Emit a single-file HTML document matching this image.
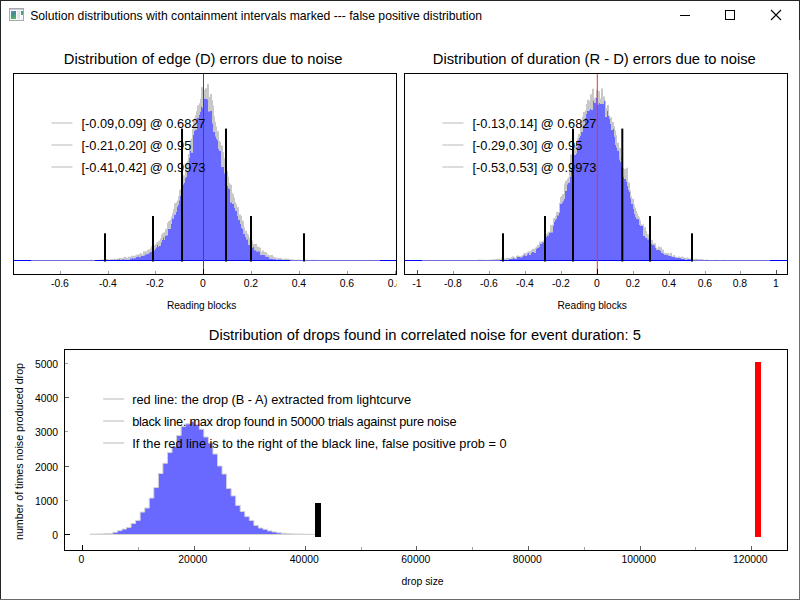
<!DOCTYPE html>
<html><head><meta charset="utf-8"><style>
html,body{margin:0;padding:0;width:800px;height:600px;overflow:hidden;background:#fff}
svg{display:block}
</style></head><body>
<svg width="800" height="600" viewBox="0 0 800 600">
<g font-family='"Liberation Sans", sans-serif' fill="#000">
<rect x="0" y="0" width="800" height="600" fill="#fff"/>
<rect x="0" y="0" width="800" height="1" fill="#1f2427"/>
<rect x="0" y="0" width="1" height="600" fill="#22272a"/>
<rect x="799" y="0" width="1" height="40" fill="#25292b"/>
<rect x="799" y="40" width="1" height="560" fill="#6c6c6c"/>
<rect x="0" y="599" width="800" height="1" fill="#6a6a6a"/>
<defs><linearGradient id="ig" x1="0" y1="0" x2="0.4" y2="1"><stop offset="0" stop-color="#6b8bc6"/><stop offset="0.5" stop-color="#3f8f90"/><stop offset="1" stop-color="#52b462"/></linearGradient></defs>
<rect x="9.5" y="8.5" width="14" height="12" fill="#f7f7f9" stroke="#a6a9ad" stroke-width="1"/>
<rect x="10" y="9" width="13" height="1" fill="#c9ccd0"/>
<rect x="11" y="11" width="5" height="8" fill="url(#ig)"/>
<rect x="17.5" y="11" width="2.5" height="8" fill="#e2e2e2"/>
<rect x="21" y="11" width="2" height="4" fill="url(#ig)"/>
<text x="30.2" y="20" font-size="12.2">Solution distributions with containment intervals marked --- false positive distribution</text>
<rect x="680" y="15" width="10" height="1" fill="#000"/>
<rect x="725.5" y="10.5" width="9" height="9" fill="none" stroke="#000" stroke-width="1"/>
<path d="M771,10 L781,20 M781,10 L771,20" stroke="#000" stroke-width="1.1" fill="none"/>
<text x="63.8" y="64" font-size="14.76">Distribution of edge (D) errors due to noise</text>
<clipPath id="c1"><rect x="14" y="74" width="382" height="200"/></clipPath>
<g clip-path="url(#c1)">
<path d="M31,260.5H31V260.5H90V260.31H91V260.34H92V260.46H93V260.44H94V260.45H96V260.5H101V260.38H102V260.5H104V260.4H105V259.99H106V260.01H107V260.46H109V260.21H110V260.5H111V260.39H112V259.98H114V259.46H115V260.12H117V259.37H118V259.93H119V259.12H120V260.29H122V259.28H124V259.34H125V259.66H126V259.37H127V259.94H129V259.59H130V258.21H131V258.87H132V257.69H133V258.13H135V257.71H136V256.83H137V256.45H138V256.13H139V257.36H140V256.9H141V255.73H142V256.11H144V255.32H145V254.28H147V253.71H148V253.45H149V252.73H150V251.69H151V252.12H152V250.99H153V250.37H155V249H156V247.37H157V245.12H158V246.98H159V245.42H161V242.25H162V239.84H163V237.17H164V239.64H165V236.02H166V235.32H168V228.74H170V228.89H171V223.78H172V218.37H173V219H174V214.61H176V211.65H177V206.91H178V204.4H179V200.28H180V195.54H181V195.32H182V191.11H183V184.32H184V182.57H185V177.84H186V176.95H187V171.03H188V171.56H189V157.67H190V151.02H191V152.48H193V134.78H194V130.82H195V129.43H197V117.93H198V117.58H199V115.01H200V111.53H201V106.35H202V107.94H203V103.27H204V98.43H206V99.02H207V99.17H208V111.28H210V110.98H212V123.28H213V131.79H215V136.31H216V138.51H217V140.14H218V148.8H219V150.77H221V166.86H223V166.97H224V173.22H225V175.08H226V182.63H227V186.01H228V188.28H229V188.93H230V202.26H232V204.03H234V207.6H235V210.59H236V210.96H237V215.85H238V219.52H240V224H241V227.39H242V228.79H243V233.97H245V236.74H246V239.29H248V244.49H250V242.67H251V245.71H252V247.43H253V246.67H254V249.85H255V250.33H256V251.25H258V251.31H259V251.26H260V254.64H262V254.54H263V255.03H264V254.73H265V256.13H266V256.91H267V256.62H268V257.01H269V258.95H270V258.48H272V259.05H273V259.19H274V258.92H275V259.31H276V259.95H278V259.17H279V259.18H280V259.36H281V260.5H282V259.92H283V259.81H284V259.96H285V260.29H286V260.41H288V260.5H290V260.36H291V260.5H294V260.32H295V260.5H297V260.21H298V260.5H304V260.48H305V260.49H307V260.5H314V260.44H315V260.45H316V260.5H318V260.48H319V260.37H320V260.44H321V260.5H323V260.41H324V260.49H326V260.5H342V260.49H344V260.5H380V260.5Z" fill="#0000ff" fill-opacity="0.588"/>
<path d="M31,260.48H31V260.48H33V260.5H34V260.49H36V260.48H40V260.47H41V260.45H43V260.46H44V260.47H45V260.44H48V260.42H50V260.46H51V260.41H52V260.39H54V260.44H56V260.43H57V260.41H59V260.5H60V260.46H61V260.41H65V260.39H67V260.4H68V260.35H70V260.38H73V260.35H74V260.15H76V260.17H77V260.3H79V260.22H80V260.12H82V260.14H83V260.02H85V260.05H86V260.04H88V260.06H90V259.83H92V259.96H94V259.98H95V259.92H97V259.9H99V259.77H100V259.57H101V259.56H103V259.55H105V259.67H106V259.08H108V259.24H109V259.66H110V259.26H111V258.88H113V258.91H114V258.87H116V258.95H117V258.4H119V258.22H120V257.89H122V258.13H123V257.44H124V256.77H126V257.69H128V256.67H130V256.38H131V255.69H133V255.75H134V256H135V255.31H136V254.7H137V254.49H139V253.87H140V253.24H142V254.47H143V251.36H145V251.2H147V250.09H148V249.6H150V248.27H151V246.37H153V246.15H154V245.25H155V244.49H156V242.73H157V241.9H158V240.79H160V238.5H161V234.83H162V233.26H163V232.85H164V231.99H165V228.9H166V228.74H167V222.86H168V221.17H169V220.65H170V219.83H171V216.5H172V213.31H173V209.06H174V203.17H176V202.26H177V200.22H178V196.24H179V190.18H180V189.22H181V184.41H182V175.19H184V175.5H185V167.38H186V163.57H187V160.75H188V154.05H189V143.99H190V139.74H191V138.79H192V129.1H193V120.32H194V118.01H195V115.24H196V110.98H197V105.37H199V103.23H200V98.81H201V87.17H203V89.46H204V89.75H205V88.35H207V83.93H209V97.08H210V94.1H212V100.35H213V105.39H214V116.17H215V122H216V126.6H217V131.08H218V131.22H219V140.75H220V141.93H221V145.39H223V152.37H224V158.04H226V171.35H228V176.66H229V182.96H230V184.57H231V184.75H232V192.98H233V194.53H234V197.5H235V202.28H236V204.16H237V207.07H239V214.49H241V215.97H242V220.21H243V221.14H244V227.54H245V230.64H247V233.61H248V234.8H249V237.72H251V239.63H252V240.59H253V244.08H254V244.09H255V243.9H257V246.38H259V247.41H261V251.7H262V250.47H264V251.91H266V252.21H267V254.48H269V255.24H271V255.07H273V256.47H274V257.31H276V258.29H277V257.72H279V258.49H280V258.08H282V258.93H284V258.53H285V258.51H287V258.75H289V259.37H291V259.26H293V259.71H294V259.65H296V259.78H298V259.85H299V259.86H301V259.95H302V260H303V260.01H304V259.95H306V259.84H308V259.9H310V259.99H311V259.75H313V259.98H314V259.87H316V260.11H318V259.95H320V260.13H321V260.11H323V260.08H325V260.18H326V260.12H328V260.31H329V260.05H330V259.98H332V260.26H334V260.31H335V260.36H336V260.15H338V260.17H339V260.23H340V260.24H341V260.26H343V260.31H345V260.35H347V260.34H349V260.28H351V260.33H352V260.32H354V260.33H355V260.44H356V260.36H357V260.33H359V260.4H360V260.29H362V260.4H364V260.42H366V260.38H368V260.45H369V260.42H371V260.43H372V260.44H373V260.46H375V260.47H376V260.4H378V260.36H380H380V260.5H344V260.49H342V260.5H326V260.49H324V260.41H323V260.5H321V260.44H320V260.37H319V260.48H318V260.5H316V260.45H315V260.44H314V260.5H307V260.49H305V260.48H304V260.5H298V260.21H297V260.5H295V260.32H294V260.5H291V260.36H290V260.5H288V260.41H286V260.29H285V259.96H284V259.81H283V259.92H282V260.5H281V259.36H280V259.18H279V259.17H278V259.95H276V259.31H275V258.92H274V259.19H273V259.05H272V258.48H270V258.95H269V257.01H268V256.62H267V256.91H266V256.13H265V254.73H264V255.03H263V254.54H262V254.64H260V251.26H259V251.31H258V251.25H256V250.33H255V249.85H254V246.67H253V247.43H252V245.71H251V242.67H250V244.49H248V239.29H246V236.74H245V233.97H243V228.79H242V227.39H241V224H240V219.52H238V215.85H237V210.96H236V210.59H235V207.6H234V204.03H232V202.26H230V188.93H229V188.28H228V186.01H227V182.63H226V175.08H225V173.22H224V166.97H223V166.86H221V150.77H219V148.8H218V140.14H217V138.51H216V136.31H215V131.79H213V123.28H212V110.98H210V111.28H208V99.17H207V99.02H206V98.43H204V103.27H203V107.94H202V106.35H201V111.53H200V115.01H199V117.58H198V117.93H197V129.43H195V130.82H194V134.78H193V152.48H191V151.02H190V157.67H189V171.56H188V171.03H187V176.95H186V177.84H185V182.57H184V184.32H183V191.11H182V195.32H181V195.54H180V200.28H179V204.4H178V206.91H177V211.65H176V214.61H174V219H173V218.37H172V223.78H171V228.89H170V228.74H168V235.32H166V236.02H165V239.64H164V237.17H163V239.84H162V242.25H161V245.42H159V246.98H158V245.12H157V247.37H156V249H155V250.37H153V250.99H152V252.12H151V251.69H150V252.73H149V253.45H148V253.71H147V254.28H145V255.32H144V256.11H142V255.73H141V256.9H140V257.36H139V256.13H138V256.45H137V256.83H136V257.71H135V258.13H133V257.69H132V258.87H131V258.21H130V259.59H129V259.94H127V259.37H126V259.66H125V259.34H124V259.28H122V260.29H120V259.12H119V259.93H118V259.37H117V260.12H115V259.46H114V259.98H112V260.39H111V260.5H110V260.21H109V260.46H107V260.01H106V259.99H105V260.4H104V260.5H102V260.38H101V260.5H96V260.45H94V260.44H93V260.46H92V260.34H91V260.31H90V260.5H31Z" fill="#c8c8c8"/>
<rect x="13" y="260" width="383" height="1" fill="#0000ff"/>
<rect x="31" y="260" width="64" height="1" fill="#c8c8c8" fill-opacity="0.55"/>
<rect x="290" y="260" width="90" height="1" fill="#c8c8c8" fill-opacity="0.55"/>
<rect x="203" y="73" width="1" height="201" fill="#ff0000"/>
<rect x="104" y="233.3" width="2" height="28.2" fill="#000"/>
<rect x="152" y="216" width="2" height="45.5" fill="#000"/>
<rect x="181" y="128.6" width="2" height="132.9" fill="#000"/>
<rect x="225" y="128.6" width="2" height="132.9" fill="#000"/>
<rect x="250" y="216" width="2" height="45.5" fill="#000"/>
<rect x="303" y="233.3" width="2" height="28.2" fill="#000"/>
<rect x="51.4" y="122" width="21" height="2" fill="#dcdcdc"/>
<text x="81.5" y="128" font-size="12.8">[-0.09,0.09] @ 0.6827</text>
<rect x="51.4" y="144" width="21" height="2" fill="#dcdcdc"/>
<text x="81.5" y="150" font-size="12.8">[-0.21,0.20] @ 0.95</text>
<rect x="51.4" y="166" width="21" height="2" fill="#dcdcdc"/>
<text x="81.5" y="172" font-size="12.8">[-0.41,0.42] @ 0.9973</text>
</g>
<rect x="60" y="271" width="1" height="3" fill="#9a9a9a"/>
<rect x="108" y="271" width="1" height="3" fill="#9a9a9a"/>
<rect x="155" y="271" width="1" height="3" fill="#9a9a9a"/>
<rect x="203" y="269" width="1" height="5" fill="#000"/>
<rect x="251" y="271" width="1" height="3" fill="#9a9a9a"/>
<rect x="299" y="271" width="1" height="3" fill="#9a9a9a"/>
<rect x="347" y="271" width="1" height="3" fill="#9a9a9a"/>
<rect x="395" y="271" width="1" height="3" fill="#9a9a9a"/>
<rect x="13.5" y="73.5" width="383" height="201" fill="none" stroke="#000" stroke-width="1"/>
<clipPath id="c1t"><rect x="-7" y="274" width="404" height="20"/></clipPath>
<g clip-path="url(#c1t)" font-size="10.4" text-anchor="middle">
<text x="59.9" y="287">-0.6</text>
<text x="107.9" y="287">-0.4</text>
<text x="154.9" y="287">-0.2</text>
<text x="202.9" y="287">0</text>
<text x="250.9" y="287">0.2</text>
<text x="298.9" y="287">0.4</text>
<text x="346.9" y="287">0.6</text>
<text x="394.9" y="287">0.8</text>
</g>
<text x="166.9" y="308.6" font-size="10.17">Reading blocks</text>
<text x="432.8" y="64" font-size="14.76">Distribution of duration (R - D) errors due to noise</text>
<clipPath id="c2"><rect x="405" y="74" width="382" height="200"/></clipPath>
<g clip-path="url(#c2)">
<path d="M422,260.5H422V260.5H426V260.48H427V260.49H428V260.5H432V260.48H433V260.5H438V260.47H439V260.5H441V260.47H442V260.5H448V260.45H449V260.5H451V260.47H453V260.4H454V260.5H456V260.46H457V260.3H458V260.38H460V260.49H462V260.35H463V260.5H465V260.34H466V260.5H468V260.32H469V260.46H471V260.5H473V260.47H476V260.5H478V260.42H480V260.14H481V260.17H482V260.3H484V260.24H485V260.5H487V260.24H488V260.16H489V260.07H490V260.02H491V259.99H492V260.27H494V259.86H495V260.13H497V259.82H498V260.5H500V260.07H501V260.02H502V259.18H503V260.13H505V259.99H507V259.43H509V258.93H511V258.86H512V258.45H513V257.7H514V258.17H515V258.5H517V256.46H518V256.99H520V257.34H522V257.01H523V255.6H524V254.59H525V256.08H527V254.28H528V252.65H529V254.78H531V252.55H532V251.67H533V252.07H534V252.44H536V249.03H537V247.43H539V246.98H540V243.79H542V242.23H543V242.33H545V236.99H547V235.46H548V235.36H549V233.03H550V232.23H551V232.24H553V225.87H554V221.83H555V219.52H556V218.95H557V215.33H559V212.49H560V203.96H562V202.21H563V200.39H564V198.81H565V190.9H567V184.25H568V182.4H570V176.42H571V168.95H573V161.81H574V155.07H576V153.3H577V146.45H578V140.1H579V137.98H580V135.46H581V131.68H583V125.39H585V117.83H586V113.64H587V111.06H588V110.65H589V110.33H590V109.01H591V109.47H593V100.48H594V102.83H596V97.84H597V104.26H599V102.67H600V104.07H602V103.99H604V100.95H605V116.83H607V110.57H608V115.66H609V118.44H610V123.85H611V129.72H613V128.61H614V136.4H615V145.03H616V147.37H617V150.53H619V159.24H620V161.81H621V166.38H622V168.07H623V176.88H624V178.84H626V181.32H627V186.07H628V190.1H629V191.68H630V198.23H631V204.12H633V209.05H634V213.84H635V216.9H636V219H638V219.14H639V225.05H640V225.62H641V225.99H643V235.47H645V237.54H647V239.27H649V241.05H650V244.04H652V244.8H653V244.93H654V245.17H655V247.9H656V249.97H658V249.7H659V249.95H660V250.55H661V253.07H663V253.52H664V254.44H666V254.41H668V255.5H669V255.84H671V256.29H672V256.82H674V256.94H675V257.98H677V257.97H678V257.96H679V257.87H681V258.75H683V258.41H685V259.39H687V259.21H688V258.64H689V259.18H690V259.2H691V259.86H693V259.71H694V259.89H696V259.59H698V260.32H700V259.89H702V260.23H704V260.5H706V260.34H708V260.3H709V260.31H711V260.5H713V260.41H715V260.49H717V260.41H719V260.5H723V260.45H724V260.44H725V260.5H727V260.41H728V260.43H730V260.5H733V260.41H734V260.5H744V260.4H745V260.5H749V260.49H750V260.48H751V260.5H754V260.49H755V260.5H764V260.45H765V260.5H770V260.5Z" fill="#0000ff" fill-opacity="0.588"/>
<path d="M422,260.45H422V260.45H423V260.42H425V260.39H427V260.31H429V260.47H430V260.46H431V260.45H432V260.39H434V260.42H436V260.47H437V260.2H439V260.39H440V260.4H443V260.28H445V260.35H446V260.34H447V260.31H449V260.35H450V260.25H452V260.37H454V260.4H455V260.34H456V260.22H458V260.27H459V260.15H461V260.11H463V260.01H465V260.1H466V260.24H467V260.16H469V260.09H471V260.11H472V260.25H473V259.98H475V260.13H476V260.07H477V259.73H479V259.6H481V259.77H482V259.66H484V259.7H486V259.97H487V259.8H488V259.7H490V259.73H491V259.56H493V259.17H495V259.55H496V258.67H498V258.81H500V259.23H501V257.58H503V258.86H504V258.57H506V257.71H508V257.87H510V258.61H511V257.07H512V256.3H514V257.43H516V255.74H517V255.55H519V256.17H521V255.48H522V255.16H523V253.54H524V253.11H526V252.92H527V251.8H528V251.62H529V251.11H531V249.79H532V248.77H534V248.83H535V247.41H536V246.67H537V245H539V241.71H541V241.47H542V241.22H543V240.51H544V235.33H546V234.03H547V232.68H548V231.7H550V225.34H552V224.81H553V217.94H555V216.34H556V212.08H558V211.96H559V202.84H560V196.94H561V195.95H562V194.12H564V183.61H565V180.82H567V178.49H568V177.37H569V167.63H570V154.52H572V161.5H573V147.31H574V145.78H575V145.56H576V143.2H577V137.67H578V133.63H580V121.76H582V116.46H583V111.86H585V110.46H586V104.06H587V99.63H589V100.67H590V94.35H592V88.65H594V98.5H595V97.29H596V89.84H598V90.98H600V98.39H601V88.4H603V96.53H605V100.4H606V107.68H607V104.95H609V115.6H610V117.18H612V121.97H614V126.11H615V130.6H616V135.2H617V142.72H619V147.98H621V156.34H622V161.86H623V168.02H624V168.7H625V169.29H626V167.85H628V182.5H630V190.17H631V196.37H632V198.83H634V204.5H635V207.7H636V210.87H637V213.51H638V216.05H639V217.54H640V220.46H641V224.2H642V224.6H644V227.15H646V231.06H647V233.93H648V234.32H649V238.06H650V239.46H651V240.03H653V243.15H655V243.36H656V247.46H657V248.53H658V246.52H660V247.17H662V249.67H664V252.68H666V253.36H667V252.95H669V254.31H670V252.81H672V256.22H673V255H675V256.38H676V256.6H677V256.91H678V256.59H680V257.4H681V256.45H683V257.35H684V257.43H685V258.37H686V257.47H688V258.38H690V258.46H691V258.65H692V259.35H693V259.07H695V258.84H697V259.29H698V259.15H700V258.96H702V259.19H703V259.55H704V259.69H705V259.99H706V259.5H708V260.11H709V260.09H710V260.04H714V260.14H715V259.69H717V259.93H719V259.99H720V260.17H722V260.32H724V259.86H726V260.29H727V260.19H729V260.18H731V260.26H732V260.28H733V260.27H735V260.34H737V260.4H738V260.38H740V260.49H741V260.3H743V260.26H745V260.32H746V260.42H747V260.44H748V260.42H749V260.32H751V260.42H752V260.41H753V260.35H755V260.3H757V260.39H758V260.45H759V260.33H761V260.41H763V260.42H764V260.4H766V260.43H767V260.39H769V260.41H770H770V260.5H765V260.45H764V260.5H755V260.49H754V260.5H751V260.48H750V260.49H749V260.5H745V260.4H744V260.5H734V260.41H733V260.5H730V260.43H728V260.41H727V260.5H725V260.44H724V260.45H723V260.5H719V260.41H717V260.49H715V260.41H713V260.5H711V260.31H709V260.3H708V260.34H706V260.5H704V260.23H702V259.89H700V260.32H698V259.59H696V259.89H694V259.71H693V259.86H691V259.2H690V259.18H689V258.64H688V259.21H687V259.39H685V258.41H683V258.75H681V257.87H679V257.96H678V257.97H677V257.98H675V256.94H674V256.82H672V256.29H671V255.84H669V255.5H668V254.41H666V254.44H664V253.52H663V253.07H661V250.55H660V249.95H659V249.7H658V249.97H656V247.9H655V245.17H654V244.93H653V244.8H652V244.04H650V241.05H649V239.27H647V237.54H645V235.47H643V225.99H641V225.62H640V225.05H639V219.14H638V219H636V216.9H635V213.84H634V209.05H633V204.12H631V198.23H630V191.68H629V190.1H628V186.07H627V181.32H626V178.84H624V176.88H623V168.07H622V166.38H621V161.81H620V159.24H619V150.53H617V147.37H616V145.03H615V136.4H614V128.61H613V129.72H611V123.85H610V118.44H609V115.66H608V110.57H607V116.83H605V100.95H604V103.99H602V104.07H600V102.67H599V104.26H597V97.84H596V102.83H594V100.48H593V109.47H591V109.01H590V110.33H589V110.65H588V111.06H587V113.64H586V117.83H585V125.39H583V131.68H581V135.46H580V137.98H579V140.1H578V146.45H577V153.3H576V155.07H574V161.81H573V168.95H571V176.42H570V182.4H568V184.25H567V190.9H565V198.81H564V200.39H563V202.21H562V203.96H560V212.49H559V215.33H557V218.95H556V219.52H555V221.83H554V225.87H553V232.24H551V232.23H550V233.03H549V235.36H548V235.46H547V236.99H545V242.33H543V242.23H542V243.79H540V246.98H539V247.43H537V249.03H536V252.44H534V252.07H533V251.67H532V252.55H531V254.78H529V252.65H528V254.28H527V256.08H525V254.59H524V255.6H523V257.01H522V257.34H520V256.99H518V256.46H517V258.5H515V258.17H514V257.7H513V258.45H512V258.86H511V258.93H509V259.43H507V259.99H505V260.13H503V259.18H502V260.02H501V260.07H500V260.5H498V259.82H497V260.13H495V259.86H494V260.27H492V259.99H491V260.02H490V260.07H489V260.16H488V260.24H487V260.5H485V260.24H484V260.3H482V260.17H481V260.14H480V260.42H478V260.5H476V260.47H473V260.5H471V260.46H469V260.32H468V260.5H466V260.34H465V260.5H463V260.35H462V260.49H460V260.38H458V260.3H457V260.46H456V260.5H454V260.4H453V260.47H451V260.5H449V260.45H448V260.5H442V260.47H441V260.5H439V260.47H438V260.5H433V260.48H432V260.5H428V260.49H427V260.48H426V260.5H422Z" fill="#c8c8c8"/>
<rect x="404" y="260" width="383" height="1" fill="#0000ff"/>
<rect x="422" y="260" width="78" height="1" fill="#c8c8c8" fill-opacity="0.55"/>
<rect x="693" y="260" width="77" height="1" fill="#c8c8c8" fill-opacity="0.55"/>
<rect x="596.8" y="73" width="1" height="201" fill="#ff2a2a"/>
<rect x="502" y="233.3" width="2" height="28.2" fill="#000"/>
<rect x="544" y="216" width="2" height="45.5" fill="#000"/>
<rect x="572" y="128.6" width="2" height="132.9" fill="#000"/>
<rect x="621.3" y="128.6" width="2" height="132.9" fill="#000"/>
<rect x="649" y="216" width="2" height="45.5" fill="#000"/>
<rect x="691" y="233.3" width="2" height="28.2" fill="#000"/>
<rect x="442.4" y="122" width="21" height="2" fill="#dcdcdc"/>
<text x="472.5" y="128" font-size="12.8">[-0.13,0.14] @ 0.6827</text>
<rect x="442.4" y="144" width="21" height="2" fill="#dcdcdc"/>
<text x="472.5" y="150" font-size="12.8">[-0.29,0.30] @ 0.95</text>
<rect x="442.4" y="166" width="21" height="2" fill="#dcdcdc"/>
<text x="472.5" y="172" font-size="12.8">[-0.53,0.53] @ 0.9973</text>
</g>
<rect x="417" y="270" width="1" height="4" fill="#505050"/>
<rect x="453" y="271" width="1" height="3" fill="#9a9a9a"/>
<rect x="489" y="271" width="1" height="3" fill="#9a9a9a"/>
<rect x="525" y="271" width="1" height="3" fill="#9a9a9a"/>
<rect x="561" y="271" width="1" height="3" fill="#9a9a9a"/>
<rect x="597" y="269" width="1" height="5" fill="#000"/>
<rect x="633" y="271" width="1" height="3" fill="#9a9a9a"/>
<rect x="669" y="271" width="1" height="3" fill="#9a9a9a"/>
<rect x="705" y="271" width="1" height="3" fill="#9a9a9a"/>
<rect x="740" y="271" width="1" height="3" fill="#9a9a9a"/>
<rect x="776" y="270" width="1" height="4" fill="#505050"/>
<rect x="404.5" y="73.5" width="383" height="201" fill="none" stroke="#000" stroke-width="1"/>
<clipPath id="c2t"><rect x="384" y="274" width="404" height="20"/></clipPath>
<g clip-path="url(#c2t)" font-size="10.4" text-anchor="middle">
<text x="416.9" y="287">-1</text>
<text x="452.9" y="287">-0.8</text>
<text x="488.9" y="287">-0.6</text>
<text x="524.9" y="287">-0.4</text>
<text x="560.9" y="287">-0.2</text>
<text x="596.9" y="287">0</text>
<text x="632.9" y="287">0.2</text>
<text x="668.9" y="287">0.4</text>
<text x="704.9" y="287">0.6</text>
<text x="739.9" y="287">0.8</text>
<text x="775.9" y="287">1</text>
</g>
<text x="557.5" y="308.6" font-size="10.17">Reading blocks</text>
<text x="208.8" y="340" font-size="14.76">Distribution of drops found in correlated noise for event duration: 5</text>
<path d="M90.1,534.5L90.1,534.1L94.65,534.1L94.65,534L99.2,534L99.2,533.9L103.75,533.9L103.75,533.8L108.3,533.8L108.3,533.6L112.85,533.6L112.85,532.3L117.4,532.3L117.4,530.7L121.95,530.7L121.95,529.1L126.5,529.1L126.5,527.4L131.05,527.4L131.05,523.5L135.6,523.5L135.6,520.4L140.15,520.4L140.15,512.1L144.7,512.1L144.7,508L149.25,508L149.25,498.1L153.8,498.1L153.8,487.5L158.35,487.5L158.35,473.5L162.9,473.5L162.9,463.25L167.45,463.25L167.45,452.6L172,452.6L172,446.4L176.55,446.4L176.55,435.5L181.1,435.5L181.1,426.5L185.65,426.5L185.65,423.8L190.2,423.8L190.2,421.5L194.75,421.5L194.75,424.5L199.3,424.5L199.3,429.2L203.85,429.2L203.85,437L208.4,437L208.4,443L212.95,443L212.95,454L217.5,454L217.5,466L222.05,466L222.05,474L226.6,474L226.6,488.5L231.15,488.5L231.15,495.9L235.7,495.9L235.7,505.4L240.25,505.4L240.25,511.5L244.8,511.5L244.8,516.6L249.35,516.6L249.35,520.5L253.9,520.5L253.9,525.4L258.45,525.4L258.45,528L263,528L263,529.3L267.55,529.3L267.55,530.9L272.1,530.9L272.1,531.9L276.65,531.9L276.65,532.8L281.2,532.8L281.2,533.3L285.75,533.3L285.75,533.7L290.3,533.7L290.3,533.9L294.85,533.9L294.85,534L299.4,534L299.4,534.1L303.95,534.1L303.95,534.2L308.5,534.2L308.5,534.3L313.05,534.3L313.05,534.4L317.6,534.4L317.6,534.5Z" fill="#6969ff" stroke="#d2d2d2" stroke-width="1"/>
<rect x="315" y="503" width="6" height="34" fill="#000"/>
<rect x="755" y="362" width="6" height="175" fill="#ff0000"/>
<rect x="103.2" y="398" width="21" height="2" fill="#dcdcdc"/>
<text x="132.2" y="404" font-size="12.77">red line: the drop (B - A) extracted from lightcurve</text>
<rect x="103.2" y="420" width="21" height="2" fill="#dcdcdc"/>
<text x="132.2" y="426" font-size="12.77" letter-spacing="-0.26">black line: max drop found in 50000 trials against pure noise</text>
<rect x="103.2" y="442" width="21" height="2" fill="#dcdcdc"/>
<text x="132.2" y="448" font-size="12.77">If the red line is to the right of the black line, false positive prob = 0</text>
<rect x="82" y="545" width="1" height="5" fill="#000"/>
<rect x="138" y="547" width="1" height="3" fill="#a0a0a0"/>
<rect x="194" y="546" width="1" height="4" fill="#606060"/>
<rect x="249" y="547" width="1" height="3" fill="#a0a0a0"/>
<rect x="305" y="546" width="1" height="4" fill="#606060"/>
<rect x="361" y="547" width="1" height="3" fill="#a0a0a0"/>
<rect x="416" y="546" width="1" height="4" fill="#606060"/>
<rect x="472" y="547" width="1" height="3" fill="#a0a0a0"/>
<rect x="528" y="546" width="1" height="4" fill="#606060"/>
<rect x="584" y="547" width="1" height="3" fill="#a0a0a0"/>
<rect x="640" y="546" width="1" height="4" fill="#606060"/>
<rect x="695" y="547" width="1" height="3" fill="#a0a0a0"/>
<rect x="751" y="546" width="1" height="4" fill="#606060"/>
<rect x="65" y="534" width="5" height="1" fill="#000"/>
<rect x="65" y="500" width="3" height="1" fill="#a0a0a0"/>
<rect x="65" y="466" width="4" height="1" fill="#606060"/>
<rect x="65" y="431" width="3" height="1" fill="#a0a0a0"/>
<rect x="65" y="397" width="4" height="1" fill="#606060"/>
<rect x="65" y="363" width="3" height="1" fill="#a0a0a0"/>
<rect x="64.5" y="349.5" width="723" height="201" fill="none" stroke="#000" stroke-width="1"/>
<g font-size="10.4" text-anchor="middle">
<text x="81.3" y="562.8">0</text>
<text x="192.8" y="562.8">20000</text>
<text x="304.3" y="562.8">40000</text>
<text x="415.8" y="562.8">60000</text>
<text x="527.3" y="562.8">80000</text>
<text x="638.8" y="562.8">100000</text>
<text x="750.3" y="562.8">120000</text>
</g>
<g font-size="10.4" text-anchor="end">
<text x="58" y="539">0</text>
<text x="58" y="504.8">1000</text>
<text x="58" y="470.6">2000</text>
<text x="58" y="436.4">3000</text>
<text x="58" y="402.2">4000</text>
<text x="58" y="368">5000</text>
</g>
<text x="401.5" y="584.5" font-size="10.38">drop size</text>
<text transform="translate(23,451.5) rotate(-90)" font-size="10.7" text-anchor="middle">number of times noise produced drop</text>
</g></svg>
</body></html>
